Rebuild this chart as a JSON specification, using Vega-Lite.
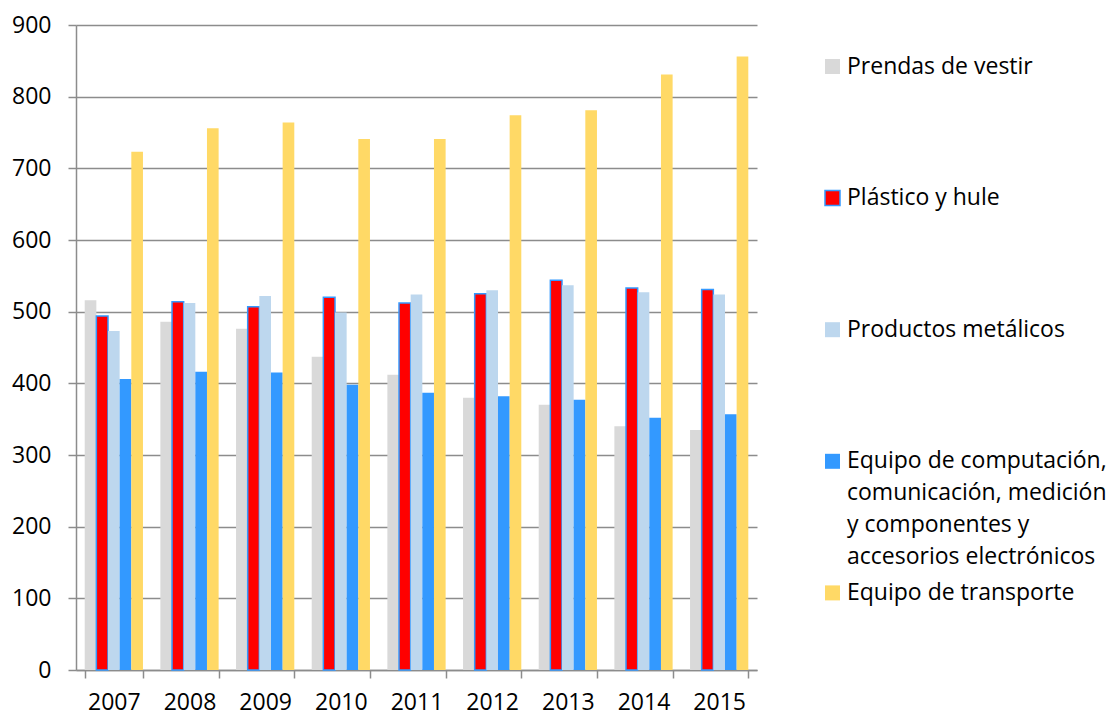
{
  "$schema": "https://vega.github.io/schema/vega-lite/v6.json",
  "width": 681,
  "height": 645,
  "autosize": {"type": "none"},
  "padding": {"left": 76, "top": 25, "right": 353, "bottom": 45},
  "background": "white",
  "config": {
    "font": "Open Sans",
    "view": {"stroke": null},
    "axis": {
      "labelFont": "Open Sans",
      "labelFontSize": 23,
      "labelColor": "#000000",
      "domainColor": "#8c8c8c",
      "domainWidth": 1.5,
      "tickColor": "#8c8c8c",
      "tickWidth": 1.5,
      "tickSize": 8,
      "gridColor": "#8c8c8c",
      "gridWidth": 1.5
    }
  },
  "data": {
    "values": [
      {"anio": "2007", "serie": "Prendas de vestir", "valor": 516},
      {"anio": "2007", "serie": "Plástico y hule", "valor": 494},
      {"anio": "2007", "serie": "Productos metálicos", "valor": 473},
      {"anio": "2007", "serie": "Equipo de computación, comunicación, medición y componentes y accesorios electrónicos", "valor": 406},
      {"anio": "2007", "serie": "Equipo de transporte", "valor": 723},
      {"anio": "2008", "serie": "Prendas de vestir", "valor": 486},
      {"anio": "2008", "serie": "Plástico y hule", "valor": 514},
      {"anio": "2008", "serie": "Productos metálicos", "valor": 512},
      {"anio": "2008", "serie": "Equipo de computación, comunicación, medición y componentes y accesorios electrónicos", "valor": 416},
      {"anio": "2008", "serie": "Equipo de transporte", "valor": 756},
      {"anio": "2009", "serie": "Prendas de vestir", "valor": 476},
      {"anio": "2009", "serie": "Plástico y hule", "valor": 507},
      {"anio": "2009", "serie": "Productos metálicos", "valor": 522},
      {"anio": "2009", "serie": "Equipo de computación, comunicación, medición y componentes y accesorios electrónicos", "valor": 415},
      {"anio": "2009", "serie": "Equipo de transporte", "valor": 764},
      {"anio": "2010", "serie": "Prendas de vestir", "valor": 437},
      {"anio": "2010", "serie": "Plástico y hule", "valor": 520},
      {"anio": "2010", "serie": "Productos metálicos", "valor": 499},
      {"anio": "2010", "serie": "Equipo de computación, comunicación, medición y componentes y accesorios electrónicos", "valor": 398},
      {"anio": "2010", "serie": "Equipo de transporte", "valor": 741},
      {"anio": "2011", "serie": "Prendas de vestir", "valor": 412},
      {"anio": "2011", "serie": "Plástico y hule", "valor": 512},
      {"anio": "2011", "serie": "Productos metálicos", "valor": 524},
      {"anio": "2011", "serie": "Equipo de computación, comunicación, medición y componentes y accesorios electrónicos", "valor": 387},
      {"anio": "2011", "serie": "Equipo de transporte", "valor": 741},
      {"anio": "2012", "serie": "Prendas de vestir", "valor": 380},
      {"anio": "2012", "serie": "Plástico y hule", "valor": 525},
      {"anio": "2012", "serie": "Productos metálicos", "valor": 530},
      {"anio": "2012", "serie": "Equipo de computación, comunicación, medición y componentes y accesorios electrónicos", "valor": 382},
      {"anio": "2012", "serie": "Equipo de transporte", "valor": 774},
      {"anio": "2013", "serie": "Prendas de vestir", "valor": 370},
      {"anio": "2013", "serie": "Plástico y hule", "valor": 544},
      {"anio": "2013", "serie": "Productos metálicos", "valor": 537},
      {"anio": "2013", "serie": "Equipo de computación, comunicación, medición y componentes y accesorios electrónicos", "valor": 377},
      {"anio": "2013", "serie": "Equipo de transporte", "valor": 781},
      {"anio": "2014", "serie": "Prendas de vestir", "valor": 340},
      {"anio": "2014", "serie": "Plástico y hule", "valor": 533},
      {"anio": "2014", "serie": "Productos metálicos", "valor": 527},
      {"anio": "2014", "serie": "Equipo de computación, comunicación, medición y componentes y accesorios electrónicos", "valor": 352},
      {"anio": "2014", "serie": "Equipo de transporte", "valor": 831},
      {"anio": "2015", "serie": "Prendas de vestir", "valor": 335},
      {"anio": "2015", "serie": "Plástico y hule", "valor": 531},
      {"anio": "2015", "serie": "Productos metálicos", "valor": 524},
      {"anio": "2015", "serie": "Equipo de computación, comunicación, medición y componentes y accesorios electrónicos", "valor": 357},
      {"anio": "2015", "serie": "Equipo de transporte", "valor": 856}
    ]
  },
  "mark": {"type": "bar", "strokeWidth": 1.5},
  "encoding": {
    "x": {
      "field": "anio",
      "type": "nominal",
      "scale": {"paddingInner": 0.23, "paddingOuter": 0.115},
      "axis": {
        "title": null,
        "labelAngle": 0,
        "tickBand": "extent",
        "labelPadding": 13,
        "labelBaseline": "top",
        "grid": false
      }
    },
    "xOffset": {
      "field": "serie",
      "type": "nominal",
      "sort": [
        "Prendas de vestir",
        "Plástico y hule",
        "Productos metálicos",
        "Equipo de computación, comunicación, medición y componentes y accesorios electrónicos",
        "Equipo de transporte"
      ],
      "scale": {"paddingInner": 0, "paddingOuter": 0}
    },
    "y": {
      "field": "valor",
      "type": "quantitative",
      "scale": {"domain": [0, 900], "nice": false},
      "axis": {
        "title": null,
        "values": [0, 100, 200, 300, 400, 500, 600, 700, 800, 900],
        "labelPadding": 17,
        "grid": true
      }
    },
    "color": {
      "field": "serie",
      "type": "nominal",
      "scale": {
        "domain": [
          "Prendas de vestir",
          "Plástico y hule",
          "Productos metálicos",
          "Equipo de computación, comunicación, medición y componentes y accesorios electrónicos",
          "Equipo de transporte"
        ],
        "range": ["#D9D9D9", "#FF0000", "#BDD7EE", "#3399FF", "#FFD966"]
      },
      "legend": {
        "title": null,
        "orient": "none",
        "legendX": 745,
        "legendY": 30,
        "padding": 0,
        "symbolType": "square",
        "symbolSize": 225,
        "symbolStrokeWidth": 1.5,
        "symbolOpacity": 1,
        "labelFont": "Open Sans",
        "labelFontSize": 23,
        "labelColor": "#000000",
        "labelOffset": 3,
        "labelLimit": 400,
        "labelBaseline": "middle",
        "rowPadding": 11.6,
        "labelExpr": "indexof(datum.label, 'computación') >= 0 ? ['Equipo de computación,', 'comunicación, medición', 'y componentes y', 'accesorios electrónicos'] : [datum.label, ' ', ' ', ' ']",
        "encode": {"labels": {"update": {"lineHeight": {"value": 32}}}}
      }
    },
    "stroke": {
      "field": "serie",
      "type": "nominal",
      "scale": {
        "domain": [
          "Prendas de vestir",
          "Plástico y hule",
          "Productos metálicos",
          "Equipo de computación, comunicación, medición y componentes y accesorios electrónicos",
          "Equipo de transporte"
        ],
        "range": ["transparent", "#3399FF", "transparent", "transparent", "transparent"]
      },
      "legend": {
        "title": null,
        "orient": "none",
        "legendX": 745,
        "legendY": 30,
        "padding": 0,
        "symbolType": "square",
        "symbolSize": 225,
        "symbolStrokeWidth": 1.5,
        "symbolOpacity": 1,
        "labelFont": "Open Sans",
        "labelFontSize": 23,
        "labelColor": "#000000",
        "labelOffset": 3,
        "labelLimit": 400,
        "labelBaseline": "middle",
        "rowPadding": 11.6,
        "labelExpr": "indexof(datum.label, 'computación') >= 0 ? ['Equipo de computación,', 'comunicación, medición', 'y componentes y', 'accesorios electrónicos'] : [datum.label, ' ', ' ', ' ']",
        "encode": {"labels": {"update": {"lineHeight": {"value": 32}}}}
      }
    }
  }
}
